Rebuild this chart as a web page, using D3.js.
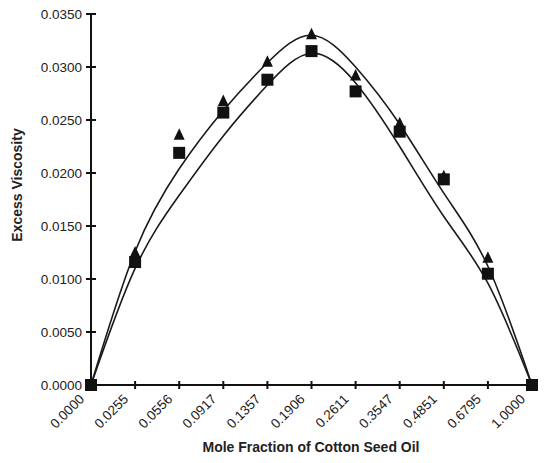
<!DOCTYPE html>
<html>
<head>
<meta charset="utf-8">
<script src="https://cdn.jsdelivr.net/npm/d3@7"></script>
<style>
  body { margin: 0; background: #fff; }
  svg { display: block; }
  text { font-family: "Liberation Sans", Arial, sans-serif; fill: #222; }
</style>
</head>
<body>
<div id="chart"></div>
<script>
// mole fraction of cotton seed oil (category labels on x)
var moleFractions = ["0.0000", "0.0255", "0.0556", "0.0917", "0.1357", "0.1906",
                     "0.2611", "0.3547", "0.4851", "0.6795", "1.0000"];

// measured excess viscosity, two data sets
var triangleValues = [0, 0.0125, 0.0236, 0.0268, 0.0305, 0.0331, 0.0292, 0.0247, 0.0197, 0.0120, 0];
var squareValues   = [0, 0.0116, 0.0219, 0.0257, 0.0288, 0.0315, 0.0277, 0.0239, 0.0194, 0.0105, 0];

// fitted curves
var upperFit = [0, 0.0126, 0.0204, 0.0259, 0.0304, 0.0330, 0.0300, 0.0246, 0.0181, 0.0112, 0];
var lowerFit = [0, 0.0110, 0.0179, 0.0235, 0.0283, 0.0313, 0.0285, 0.0225, 0.0159, 0.0096, 0];

var yTicks = [0, 0.005, 0.010, 0.015, 0.020, 0.025, 0.030, 0.035];

(function() {
  var width = 553, height = 463;
  var plotLeft = 91, plotRight = 532, plotTop = 14, plotBottom = 385;

  var svg = d3.select("#chart").append("svg")
    .attr("width", width)
    .attr("height", height);

  var x = d3.scalePoint().domain(moleFractions).range([plotLeft, plotRight]);
  var y = d3.scaleLinear().domain([0, 0.035]).range([plotBottom, plotTop]);

  // y axis
  svg.append("line")
    .attr("x1", plotLeft).attr("x2", plotLeft)
    .attr("y1", y(0.035)).attr("y2", plotBottom)
    .attr("stroke", "#111").attr("stroke-width", 2);

  svg.selectAll(".ytick").data(yTicks).enter().append("line")
    .attr("x1", plotLeft - 5).attr("x2", plotLeft + 5)
    .attr("y1", function(d) { return y(d); })
    .attr("y2", function(d) { return y(d); })
    .attr("stroke", "#111").attr("stroke-width", 2);

  svg.selectAll(".ylabel").data(yTicks).enter().append("text")
    .attr("x", plotLeft - 9)
    .attr("y", function(d) { return y(d); })
    .attr("dy", "0.36em")
    .attr("text-anchor", "end")
    .style("font-size", "13.5px")
    .text(d3.format(".4f"));

  // x axis
  svg.append("line")
    .attr("x1", plotLeft).attr("x2", plotRight)
    .attr("y1", plotBottom).attr("y2", plotBottom)
    .attr("stroke", "#111").attr("stroke-width", 2);

  svg.selectAll(".xtick").data(moleFractions.slice(1, -1)).enter().append("line")
    .attr("x1", function(d) { return x(d); })
    .attr("x2", function(d) { return x(d); })
    .attr("y1", plotBottom - 4).attr("y2", plotBottom + 4)
    .attr("stroke", "#111").attr("stroke-width", 2);

  svg.selectAll(".xlabel").data(moleFractions).enter().append("text")
    .attr("transform", function(d) {
      return "translate(" + (x(d) - 6) + "," + (plotBottom + 15) + ") rotate(-45)";
    })
    .attr("text-anchor", "end")
    .style("font-size", "13.5px")
    .text(function(d) { return d; });

  // titles
  svg.append("text")
    .attr("x", 311).attr("y", 452)
    .attr("text-anchor", "middle")
    .style("font-size", "14px").style("font-weight", "bold")
    .text("Mole Fraction of Cotton Seed Oil");

  svg.append("text")
    .attr("transform", "translate(22,185) rotate(-90)")
    .attr("text-anchor", "middle")
    .style("font-size", "14px").style("font-weight", "bold")
    .text("Excess Viscosity");

  // fitted curves
  var line = d3.line()
    .x(function(d, i) { return x(moleFractions[i]); })
    .y(function(d) { return y(d); })
    .curve(d3.curveNatural);

  [upperFit, lowerFit].forEach(function(fit) {
    svg.append("path")
      .attr("d", line(fit))
      .attr("fill", "none")
      .attr("stroke", "#1a1a1a")
      .attr("stroke-width", 1.6);
  });

  // markers
  svg.selectAll(".tri").data(triangleValues).enter().append("path")
    .attr("transform", function(d, i) {
      return "translate(" + x(moleFractions[i]) + "," + y(d) + ")";
    })
    .attr("d", "M0,-6.5L5.5,5L-5.5,5Z")
    .attr("fill", "#111");

  svg.selectAll(".sq").data(squareValues).enter().append("rect")
    .attr("x", function(d, i) { return x(moleFractions[i]) - 6; })
    .attr("y", function(d) { return y(d) - 6; })
    .attr("width", 12).attr("height", 12)
    .attr("fill", "#111");
})();
</script>
</body>
</html>
